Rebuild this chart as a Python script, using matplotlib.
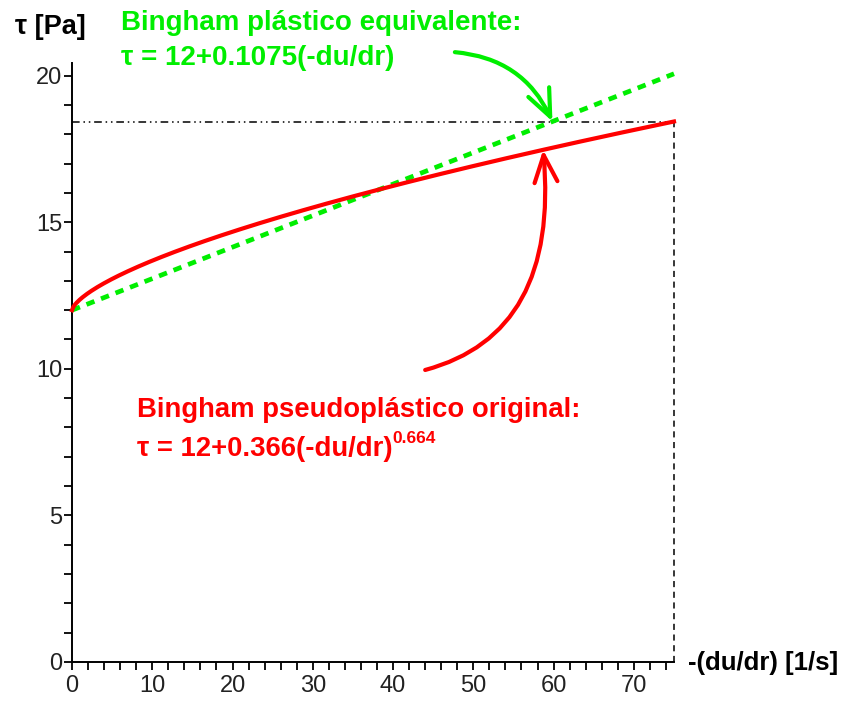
import numpy as np
import matplotlib
matplotlib.use("Agg")
import matplotlib.pyplot as plt

# Model parameters
tau0 = 12.0          # yield stress [Pa]
k_pseudo = 0.366     # consistency of the pseudoplastic model
n_pseudo = 0.664     # flow index
mu_plastic = 0.1075  # plastic viscosity of the equivalent Bingham line
shear_max = 75.0     # shear-rate range [1/s]

x_ticks = [0, 10, 20, 30, 40, 50, 60, 70]
y_ticks = [0, 5, 10, 15, 20]

label_green_1 = "Bingham plástico equivalente:"
label_green_2 = "τ = 12+0.1075(-du/dr)"
label_red_1 = "Bingham pseudoplástico original:"
label_red_2 = "τ = 12+0.366(-du/dr)"
label_red_exp = "0.664"

shear = np.linspace(0, shear_max, 400)
tau_pseudo = tau0 + k_pseudo * shear ** n_pseudo
tau_plastic = tau0 + mu_plastic * shear
tau_end = tau0 + k_pseudo * shear_max ** n_pseudo

RED = "#ff0000"
GREEN = "#00ee00"
BOLD = dict(family=["Liberation Sans", "DejaVu Sans"], fontweight="bold")

W, H = 844, 704
fig = plt.figure(figsize=(W / 100, H / 100), dpi=100)
ax = fig.add_axes([72 / W, 42 / H, 602 / W, 599 / H])
ax.set_xlim(0, shear_max)
ax.set_ylim(0, 20.43)

# reference lines at the end of the range
ax.plot([0, shear_max], [tau_end, tau_end], color="black", lw=1.1,
        dashes=(5, 2.5, 1, 2.5, 1, 2.5), zorder=2, clip_on=False)
ax.plot([shear_max, shear_max], [0, tau_end], color="black", lw=1.1,
        dashes=(4, 3), zorder=2, clip_on=False)

ax.plot(shear, tau_plastic, color=GREEN, lw=3.4, dashes=(1.8, 1.5),
        zorder=3, clip_on=False)
ax.plot(shear, tau_pseudo, color=RED, lw=3.0, zorder=4, clip_on=False)

for s in ("top", "right"):
    ax.spines[s].set_visible(False)
for s in ("left", "bottom"):
    ax.spines[s].set_linewidth(1.4)
ax.spines["bottom"].set_bounds(0, shear_max)

tick_font = dict(family=["Liberation Sans Narrow", "Liberation Sans"], size=17)
ax.set_xticks(x_ticks)
ax.set_xticks(np.arange(0, shear_max, 2), minor=True)
ax.set_yticks(y_ticks)
ax.set_yticks(np.arange(0, 21, 1), minor=True)
ax.set_xticklabels([str(v) for v in x_ticks], **tick_font, color="#222222")
ax.set_yticklabels([str(v) for v in y_ticks], **tick_font, color="#222222")
ax.tick_params(which="both", direction="out", length=6, width=1.3, color="black")
ax.tick_params(axis="x", which="both", pad=3)
ax.tick_params(axis="y", which="both", pad=1)

# axis titles
fig.text(15 / W, 1 - 34 / H, "τ [Pa]", fontsize=19.5, color="black", **BOLD)
fig.text(688 / W, 1 - 663 / H, "-(du/dr) [1/s]", fontsize=18.5, color="black",
         va="center", **BOLD)

# model labels
fig.text(121 / W, 1 - 30 / H, label_green_1, fontsize=20, color=GREEN, **BOLD)
fig.text(121 / W, 1 - 65 / H, label_green_2, fontsize=20, color=GREEN, **BOLD)
fig.text(137 / W, 1 - 417 / H, label_red_1, fontsize=19.8, color=RED, **BOLD)
t_red = fig.text(137 / W, 1 - 456 / H, label_red_2, fontsize=19.8, color=RED, **BOLD)
ax.annotate(label_red_exp, xy=(1.0, 0.6), xycoords=t_red, ha="left", va="bottom",
            fontsize=12.5, color=RED, **BOLD)

# arrows pointing at the curves
x_green_hit = (tau_end - tau0) / mu_plastic
ax.annotate("", xy=(x_green_hit, tau0 + mu_plastic * x_green_hit),
            xytext=(47.7, 20.8), annotation_clip=False,
            arrowprops=dict(arrowstyle="->,head_length=1.3,head_width=0.55",
                            mutation_scale=15, color=GREEN, lw=3.0,
                            shrinkA=0, shrinkB=0,
                            connectionstyle="angle3,angleA=-5,angleB=-65"))
x_red_hit = 58.7
ax.annotate("", xy=(x_red_hit, tau0 + k_pseudo * x_red_hit ** n_pseudo),
            xytext=(44.0, 9.96), annotation_clip=False,
            arrowprops=dict(arrowstyle="->,head_length=1.3,head_width=0.55",
                            mutation_scale=15, color=RED, lw=3.0,
                            shrinkA=0, shrinkB=0,
                            connectionstyle="angle3,angleA=15,angleB=95"))

fig.savefig("out.png", dpi=100, facecolor="white")
